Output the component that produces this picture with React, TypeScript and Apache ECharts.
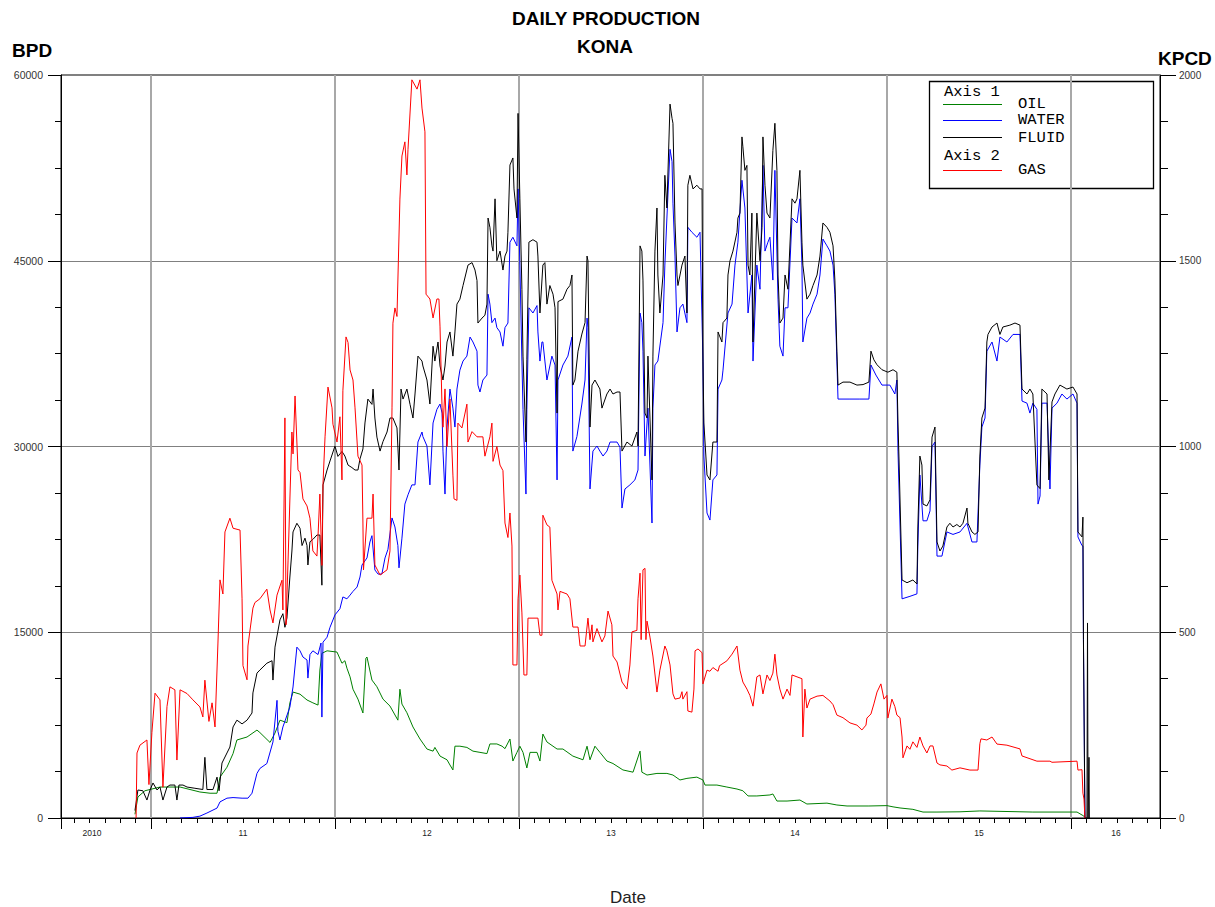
import React, { useEffect, useRef } from 'react';
import * as echarts from 'echarts';

// ---- axis ranges (decimal years / BPD / KPCD) ----
const X_MIN = 2010.511;
const X_MAX = 2016.484;
const BPD_MAX = 60000;
const BPD_STEP = 15000;
const KPCD_MAX = 2000;
const KPCD_STEP = 500;

const X_LABEL_VALUES = [2010.679, 2011.5, 2012.5, 2013.5, 2014.5, 2015.5, 2016.245];
const X_LABEL_TEXTS = ['2010', '11', '12', '13', '14', '15', '16'];

const TITLE_LINES = ['DAILY PRODUCTION', 'KONA'];
const LEFT_UNIT = 'BPD';
const RIGHT_UNIT = 'KPCD';
const X_NAME = 'Date';
const AXIS1_SERIES = ['OIL', 'WATER', 'FLUID'];
const AXIS2_SERIES = ['GAS'];
const COLORS: Record<string, string> = { OIL: '#008000', WATER: '#0000ff', FLUID: '#000000', GAS: '#ff0000' };

// ---- series values [decimal year, value] ----
const OIL: [number, number][] = [
  [2010.913, 300], [2010.929, 1700], [2010.967, 2200], [2011.049, 2500], [2011.158, 2500], [2011.266, 2100],
  [2011.321, 2000], [2011.359, 2000], [2011.375, 3300], [2011.413, 4100], [2011.446, 5200], [2011.467, 6300],
  [2011.522, 6540], [2011.576, 7100], [2011.592, 6900], [2011.647, 6100], [2011.674, 6860], [2011.701, 7900],
  [2011.739, 7700], [2011.755, 9300], [2011.772, 10170], [2011.810, 10000], [2011.848, 9530], [2011.880, 9300],
  [2011.908, 9120], [2011.918, 11950], [2011.929, 13300], [2011.957, 13500], [2012.011, 13400], [2012.038, 12500],
  [2012.054, 12700], [2012.065, 12100], [2012.082, 11400], [2012.098, 10400], [2012.125, 9600], [2012.152, 8480],
  [2012.168, 12900], [2012.174, 13000], [2012.201, 11140], [2012.228, 10600], [2012.261, 9600], [2012.299, 9040],
  [2012.342, 7900], [2012.353, 10400], [2012.364, 9200], [2012.391, 8500], [2012.424, 7350], [2012.462, 6380],
  [2012.500, 5570], [2012.533, 5400], [2012.543, 5700], [2012.571, 5000], [2012.609, 4700], [2012.625, 4280],
  [2012.641, 3880], [2012.652, 5800], [2012.679, 5800], [2012.717, 5700], [2012.750, 5400], [2012.788, 5300],
  [2012.826, 5200], [2012.842, 5980], [2012.880, 5980], [2012.908, 5800], [2012.924, 5600], [2012.951, 6380],
  [2012.967, 4600], [2012.989, 5300], [2013.005, 5800], [2013.022, 5300], [2013.043, 4040], [2013.060, 5300],
  [2013.098, 5300], [2013.114, 4600], [2013.130, 6780], [2013.152, 6140], [2013.207, 5570], [2013.239, 5570],
  [2013.293, 5000], [2013.348, 4700], [2013.370, 5800], [2013.386, 4700], [2013.413, 5800], [2013.440, 5300],
  [2013.478, 4600], [2013.511, 4400], [2013.565, 3880], [2013.620, 3700], [2013.658, 5400], [2013.668, 3700],
  [2013.696, 3470], [2013.750, 3600], [2013.804, 3600], [2013.837, 3470], [2013.875, 3070], [2013.913, 3200],
  [2013.967, 3300], [2014.000, 3070], [2014.011, 2660], [2014.076, 2660], [2014.130, 2500], [2014.185, 2340],
  [2014.217, 2200], [2014.245, 1780], [2014.293, 1780], [2014.364, 1860], [2014.380, 1940], [2014.402, 1370],
  [2014.457, 1370], [2014.527, 1450], [2014.565, 1130], [2014.674, 1200], [2014.728, 1050], [2014.783, 970],
  [2014.902, 970], [2015.000, 1000], [2015.033, 900], [2015.071, 810], [2015.141, 700], [2015.196, 480],
  [2015.272, 480], [2015.397, 500], [2015.505, 570], [2015.793, 480], [2016.033, 480], [2016.065, 200],
  [2016.082, 0],
];

const WATER: [number, number][] = [
  [2011.158, 0], [2011.228, 50], [2011.266, 150], [2011.304, 400], [2011.359, 800], [2011.375, 1300],
  [2011.413, 1600], [2011.446, 1650], [2011.495, 1600], [2011.527, 1600], [2011.549, 2000], [2011.576, 3600],
  [2011.592, 4000], [2011.630, 4400], [2011.663, 6140], [2011.685, 9500], [2011.690, 7000], [2011.701, 6300],
  [2011.717, 7350], [2011.755, 8960], [2011.772, 10580], [2011.793, 13800], [2011.810, 13500], [2011.826, 13000],
  [2011.848, 12760], [2011.853, 11300], [2011.864, 13200], [2011.880, 13500], [2011.908, 13200], [2011.924, 14130],
  [2011.929, 8150], [2011.935, 14200], [2011.957, 14600], [2011.973, 15400], [2012.000, 16400], [2012.027, 16900],
  [2012.043, 17850], [2012.065, 17700], [2012.082, 18000], [2012.098, 18300], [2012.120, 18650], [2012.136, 19460],
  [2012.147, 20430], [2012.174, 21000], [2012.190, 22290], [2012.201, 22800], [2012.217, 20030], [2012.234, 19700],
  [2012.255, 19700], [2012.272, 21000], [2012.288, 21700], [2012.310, 24230], [2012.326, 23500], [2012.342, 22000],
  [2012.348, 20200], [2012.364, 22600], [2012.380, 25350], [2012.397, 26100], [2012.418, 26900], [2012.435, 26900],
  [2012.451, 30360], [2012.473, 31170], [2012.478, 30800], [2012.500, 30040], [2012.516, 26900], [2012.533, 31900],
  [2012.554, 33000], [2012.571, 33430], [2012.582, 32700], [2012.587, 29630], [2012.598, 26160], [2012.609, 31570],
  [2012.625, 34640], [2012.641, 33100], [2012.652, 31570], [2012.663, 34640], [2012.679, 36170], [2012.696, 36900],
  [2012.717, 37300], [2012.734, 38840], [2012.750, 38440], [2012.772, 37700], [2012.777, 34960], [2012.788, 34400],
  [2012.804, 35370], [2012.826, 35770], [2012.832, 42300], [2012.842, 41500], [2012.853, 40000], [2012.870, 40370],
  [2012.880, 39600], [2012.897, 39250], [2012.913, 38100], [2012.924, 39600], [2012.940, 39970], [2012.951, 46500],
  [2012.967, 46900], [2012.989, 46200], [2012.995, 50800], [2013.005, 44650], [2013.016, 36900], [2013.022, 33000],
  [2013.038, 26160], [2013.043, 33000], [2013.054, 41200], [2013.076, 40780], [2013.098, 41380], [2013.103, 39250],
  [2013.114, 36900], [2013.125, 38440], [2013.130, 38440], [2013.141, 36900], [2013.152, 35370], [2013.179, 37300],
  [2013.196, 36580], [2013.207, 27300], [2013.212, 35370], [2013.239, 36580], [2013.266, 37300], [2013.288, 38840],
  [2013.293, 29630], [2013.315, 30800], [2013.342, 33430], [2013.359, 35370], [2013.370, 40370], [2013.375, 39600],
  [2013.386, 26570], [2013.402, 29630], [2013.424, 30040], [2013.440, 29630], [2013.457, 29230], [2013.478, 29630],
  [2013.495, 30360], [2013.533, 30360], [2013.549, 29950], [2013.560, 25030], [2013.576, 26570], [2013.603, 26900],
  [2013.630, 27300], [2013.647, 28100], [2013.658, 40780], [2013.668, 40000], [2013.674, 37700], [2013.685, 29230],
  [2013.701, 33100], [2013.723, 23820], [2013.728, 33100], [2013.739, 36580], [2013.755, 36900], [2013.783, 40000],
  [2013.793, 44650], [2013.804, 48450], [2013.821, 54000], [2013.832, 53000], [2013.837, 49650], [2013.848, 45380],
  [2013.859, 39250], [2013.875, 41200], [2013.891, 41500], [2013.913, 40000], [2013.918, 47700], [2013.940, 47300],
  [2013.967, 46900], [2013.984, 47300], [2014.000, 36900], [2014.005, 29230], [2014.022, 24630], [2014.038, 24060],
  [2014.054, 27300], [2014.076, 27700], [2014.082, 34640], [2014.103, 35370], [2014.109, 36170], [2014.136, 40780],
  [2014.158, 41500], [2014.174, 44650], [2014.190, 46500], [2014.212, 51500], [2014.228, 49260], [2014.245, 40780],
  [2014.266, 43850], [2014.272, 36900], [2014.293, 44650], [2014.310, 42700], [2014.326, 52700], [2014.337, 45780],
  [2014.353, 46500], [2014.364, 46900], [2014.380, 43440], [2014.391, 52300], [2014.408, 41900], [2014.418, 38100],
  [2014.435, 37300], [2014.446, 41200], [2014.462, 41200], [2014.484, 48450], [2014.511, 48050], [2014.527, 50000],
  [2014.538, 44650], [2014.543, 38440], [2014.565, 40370], [2014.582, 40780], [2014.598, 41500], [2014.620, 42300],
  [2014.636, 43850], [2014.652, 46750], [2014.674, 46200], [2014.690, 45780], [2014.707, 44650], [2014.717, 42300],
  [2014.728, 36900], [2014.734, 33830], [2014.799, 33830], [2014.853, 33830], [2014.902, 33830], [2014.913, 36580],
  [2014.940, 35770], [2014.973, 34960], [2015.016, 34960], [2015.043, 34240], [2015.054, 35370], [2015.060, 29630],
  [2015.082, 17700], [2015.125, 17900], [2015.163, 18100], [2015.168, 21960], [2015.179, 27700], [2015.196, 24000],
  [2015.217, 24000], [2015.234, 24800], [2015.245, 30000], [2015.261, 30360], [2015.272, 21150], [2015.299, 21150],
  [2015.326, 23100], [2015.359, 22900], [2015.397, 23100], [2015.435, 23800], [2015.462, 22290], [2015.489, 22290],
  [2015.505, 28500], [2015.516, 31570], [2015.533, 32300], [2015.543, 37700], [2015.571, 38440], [2015.598, 36900],
  [2015.614, 38840], [2015.652, 38440], [2015.685, 39050], [2015.723, 39050], [2015.734, 33670], [2015.761, 33500],
  [2015.777, 32700], [2015.793, 33500], [2015.815, 33000], [2015.821, 25350], [2015.832, 26000], [2015.842, 33500],
  [2015.870, 33500], [2015.886, 26570], [2015.897, 33100], [2015.924, 33500], [2015.951, 34240], [2015.978, 33830],
  [2016.011, 34240], [2016.033, 33500], [2016.038, 22700], [2016.060, 22000], [2016.065, 21960], [2016.068, 14200],
  [2016.076, 0],
];

const FLUID: [number, number][] = [
  [2010.913, 600], [2010.929, 2260], [2010.956, 2200], [2010.978, 1450], [2010.995, 2260], [2011.011, 2830],
  [2011.033, 2260], [2011.049, 2500], [2011.065, 1450], [2011.087, 2500], [2011.103, 2660], [2011.130, 2660],
  [2011.141, 1450], [2011.152, 2660], [2011.174, 2660], [2011.196, 2500], [2011.239, 2400], [2011.282, 2300],
  [2011.293, 4900], [2011.304, 2300], [2011.337, 2300], [2011.359, 3300], [2011.370, 2200], [2011.386, 4440],
  [2011.413, 5250], [2011.429, 5730], [2011.446, 7350], [2011.467, 7900], [2011.495, 7600], [2011.522, 7900],
  [2011.549, 8480], [2011.554, 10100], [2011.576, 11700], [2011.592, 11950], [2011.630, 12500], [2011.658, 12700],
  [2011.663, 11140], [2011.674, 13800], [2011.701, 16000], [2011.717, 16500], [2011.728, 15400], [2011.739, 16150],
  [2011.755, 19460], [2011.766, 21560], [2011.772, 23100], [2011.793, 23800], [2011.810, 23400], [2011.821, 22000],
  [2011.837, 22600], [2011.848, 22000], [2011.853, 20430], [2011.864, 22300], [2011.880, 22500], [2011.902, 22850],
  [2011.918, 22850], [2011.929, 18800], [2011.935, 26900], [2011.957, 28100], [2011.973, 28830], [2012.000, 30040],
  [2012.016, 29200], [2012.038, 29600], [2012.054, 29230], [2012.071, 28500], [2012.092, 28300], [2012.109, 28100],
  [2012.125, 28100], [2012.136, 29000], [2012.152, 29800], [2012.163, 31900], [2012.179, 33830], [2012.201, 33400],
  [2012.207, 34640], [2012.217, 32300], [2012.228, 30760], [2012.245, 29630], [2012.261, 30400], [2012.283, 31170],
  [2012.299, 32300], [2012.315, 32300], [2012.337, 31500], [2012.348, 28100], [2012.359, 34640], [2012.370, 33830],
  [2012.391, 34640], [2012.408, 33400], [2012.424, 32300], [2012.435, 34240], [2012.451, 37300], [2012.473, 36900],
  [2012.478, 36500], [2012.500, 35370], [2012.516, 33430], [2012.533, 38100], [2012.543, 36900], [2012.560, 38440],
  [2012.571, 36500], [2012.587, 35370], [2012.598, 36500], [2012.609, 38440], [2012.625, 39250], [2012.641, 37300],
  [2012.652, 39250], [2012.663, 41500], [2012.679, 41900], [2012.696, 43000], [2012.723, 44650], [2012.745, 44850],
  [2012.761, 44250], [2012.772, 43400], [2012.777, 39970], [2012.799, 40370], [2012.815, 40600], [2012.826, 41500],
  [2012.832, 48450], [2012.842, 47700], [2012.853, 46200], [2012.859, 45780], [2012.870, 50000], [2012.880, 45000],
  [2012.897, 45780], [2012.913, 44250], [2012.924, 45380], [2012.935, 45780], [2012.940, 47300], [2012.951, 52730],
  [2012.967, 53300], [2012.973, 50800], [2012.989, 48450], [2012.995, 56900], [2013.005, 50000], [2013.016, 42700],
  [2013.022, 37300], [2013.038, 30360], [2013.043, 37000], [2013.054, 46500], [2013.076, 46700], [2013.098, 46500],
  [2013.103, 45380], [2013.114, 40780], [2013.130, 44650], [2013.141, 44850], [2013.152, 41500], [2013.168, 43000],
  [2013.185, 42300], [2013.196, 41200], [2013.207, 32700], [2013.212, 41700], [2013.239, 41900], [2013.261, 42700],
  [2013.277, 43000], [2013.288, 43850], [2013.293, 34960], [2013.304, 35370], [2013.321, 37700], [2013.342, 39080],
  [2013.359, 40000], [2013.370, 45380], [2013.375, 45000], [2013.386, 31570], [2013.397, 34960], [2013.413, 35370],
  [2013.440, 34640], [2013.451, 33100], [2013.478, 34240], [2013.495, 34640], [2013.511, 34240], [2013.533, 34400],
  [2013.549, 34400], [2013.560, 29630], [2013.587, 30360], [2013.614, 30040], [2013.641, 31170], [2013.647, 30040],
  [2013.658, 46200], [2013.668, 45780], [2013.674, 43440], [2013.685, 32700], [2013.696, 32300], [2013.701, 37300],
  [2013.712, 32300], [2013.723, 27300], [2013.728, 37300], [2013.739, 45780], [2013.750, 49260], [2013.755, 43850],
  [2013.766, 40780], [2013.783, 43850], [2013.793, 51900], [2013.804, 49260], [2013.821, 57650], [2013.832, 56500],
  [2013.837, 56100], [2013.848, 48050], [2013.859, 43850], [2013.864, 43000], [2013.886, 44650], [2013.902, 45380],
  [2013.913, 40780], [2013.918, 51100], [2013.929, 51900], [2013.946, 50800], [2013.967, 51100], [2013.984, 50800],
  [2013.995, 50800], [2014.000, 36900], [2014.005, 31900], [2014.022, 27700], [2014.038, 27300], [2014.054, 30360],
  [2014.076, 30360], [2014.082, 39250], [2014.103, 38440], [2014.109, 40000], [2014.130, 40370], [2014.136, 43850],
  [2014.147, 45000], [2014.163, 45780], [2014.185, 47300], [2014.190, 48450], [2014.201, 48850], [2014.212, 55000],
  [2014.217, 54200], [2014.228, 52300], [2014.239, 52700], [2014.245, 44650], [2014.255, 43850], [2014.266, 48850],
  [2014.272, 38440], [2014.293, 48850], [2014.310, 45000], [2014.321, 47700], [2014.326, 55000], [2014.337, 51100],
  [2014.348, 48850], [2014.364, 48450], [2014.380, 53900], [2014.391, 56100], [2014.402, 52300], [2014.408, 43850],
  [2014.418, 39970], [2014.435, 40370], [2014.446, 43850], [2014.462, 42700], [2014.484, 50000], [2014.500, 49650],
  [2014.511, 50000], [2014.527, 52300], [2014.538, 46500], [2014.543, 44650], [2014.565, 41900], [2014.582, 42300],
  [2014.598, 43000], [2014.620, 43850], [2014.636, 45380], [2014.652, 48050], [2014.674, 47700], [2014.690, 47300],
  [2014.707, 46200], [2014.717, 43440], [2014.728, 37700], [2014.734, 34960], [2014.761, 35200], [2014.799, 35200],
  [2014.837, 34960], [2014.870, 35000], [2014.902, 35200], [2014.913, 37700], [2014.929, 37000], [2014.946, 36600],
  [2014.973, 36200], [2015.005, 36000], [2015.033, 36200], [2015.054, 36000], [2015.060, 31900], [2015.065, 29230],
  [2015.082, 19220], [2015.109, 19000], [2015.141, 19220], [2015.163, 18900], [2015.168, 23500], [2015.179, 29230],
  [2015.190, 28500], [2015.196, 25350], [2015.217, 25200], [2015.234, 25700], [2015.245, 30760], [2015.261, 31570],
  [2015.272, 22290], [2015.288, 21560], [2015.304, 21960], [2015.326, 23500], [2015.342, 23800], [2015.359, 23500],
  [2015.380, 23700], [2015.397, 23500], [2015.413, 23800], [2015.435, 25030], [2015.440, 23800], [2015.462, 23100],
  [2015.478, 22900], [2015.495, 23100], [2015.505, 29230], [2015.516, 32300], [2015.533, 33100], [2015.543, 38440],
  [2015.549, 39050], [2015.571, 39650], [2015.598, 39970], [2015.614, 39050], [2015.630, 39650], [2015.668, 39800],
  [2015.696, 39970], [2015.723, 39800], [2015.734, 34640], [2015.761, 34240], [2015.777, 34640], [2015.793, 34240],
  [2015.815, 26890], [2015.832, 26600], [2015.842, 34640], [2015.870, 34240], [2015.880, 27300], [2015.897, 33600],
  [2015.913, 34240], [2015.940, 34960], [2015.978, 34640], [2016.011, 34800], [2016.033, 34240], [2016.038, 23100],
  [2016.060, 22700], [2016.065, 24300], [2016.068, 14400], [2016.076, 0], [2016.087, 0], [2016.090, 15750],
  [2016.093, 0], [2016.098, 4900], [2016.100, 0],
];

const GAS: [number, number][] = [
  [2010.919, 0], [2010.924, 175], [2010.940, 196], [2010.978, 210], [2010.989, 90], [2011.005, 230],
  [2011.022, 336], [2011.049, 318], [2011.065, 83], [2011.087, 300], [2011.103, 353], [2011.130, 345],
  [2011.141, 156], [2011.158, 345], [2011.196, 335], [2011.228, 318], [2011.266, 299], [2011.282, 272],
  [2011.293, 371], [2011.315, 260], [2011.332, 310], [2011.348, 245], [2011.364, 471], [2011.375, 641],
  [2011.391, 603], [2011.402, 770], [2011.429, 807], [2011.446, 780], [2011.484, 775], [2011.495, 590],
  [2011.500, 410], [2011.522, 372], [2011.527, 463], [2011.554, 565], [2011.565, 580], [2011.592, 590],
  [2011.630, 616], [2011.647, 560], [2011.663, 525], [2011.685, 600], [2011.712, 640], [2011.717, 560],
  [2011.728, 1077], [2011.734, 520], [2011.745, 692], [2011.766, 1039], [2011.772, 980], [2011.783, 1136],
  [2011.799, 937], [2011.810, 930], [2011.826, 859], [2011.848, 840], [2011.864, 807], [2011.880, 719],
  [2011.902, 705], [2011.908, 760], [2011.918, 872], [2011.929, 680], [2011.935, 900], [2011.946, 1026],
  [2011.962, 1160], [2011.984, 1104], [2011.989, 1060], [2012.011, 1012], [2012.027, 1080], [2012.038, 910],
  [2012.043, 1150], [2012.060, 1295], [2012.071, 1280], [2012.082, 1206], [2012.098, 1179], [2012.109, 1104],
  [2012.125, 974], [2012.147, 950], [2012.152, 794], [2012.155, 668], [2012.174, 807], [2012.201, 807],
  [2012.207, 872], [2012.217, 681], [2012.245, 654], [2012.283, 668], [2012.299, 719], [2012.310, 1104],
  [2012.315, 1332], [2012.326, 1373], [2012.337, 1350], [2012.353, 1666], [2012.364, 1782], [2012.380, 1820],
  [2012.391, 1731], [2012.397, 1800], [2012.418, 1987], [2012.446, 1962], [2012.462, 1987], [2012.473, 1911],
  [2012.489, 1847], [2012.495, 1410], [2012.516, 1397], [2012.533, 1346], [2012.554, 1397], [2012.565, 1397],
  [2012.571, 1322], [2012.582, 1104], [2012.587, 1052], [2012.598, 1155], [2012.609, 1000], [2012.625, 1128],
  [2012.641, 923], [2012.647, 859], [2012.663, 855], [2012.668, 1063], [2012.690, 1050], [2012.717, 1114],
  [2012.723, 1012], [2012.745, 1040], [2012.772, 1026], [2012.804, 1026], [2012.815, 974], [2012.842, 1026],
  [2012.853, 1063], [2012.859, 960], [2012.880, 1000], [2012.897, 950], [2012.913, 935], [2012.924, 794],
  [2012.940, 755], [2012.951, 821], [2012.962, 732], [2012.967, 412], [2012.989, 412], [2012.995, 590],
  [2013.005, 654], [2013.016, 552], [2013.027, 385], [2013.043, 385], [2013.049, 538], [2013.103, 538],
  [2013.114, 492], [2013.125, 492], [2013.130, 815], [2013.152, 789], [2013.168, 783], [2013.179, 640],
  [2013.207, 603], [2013.212, 560], [2013.223, 610], [2013.261, 603], [2013.277, 590], [2013.293, 514],
  [2013.321, 514], [2013.332, 463], [2013.359, 463], [2013.375, 538], [2013.386, 480], [2013.397, 520],
  [2013.402, 474], [2013.424, 510], [2013.451, 474], [2013.467, 490], [2013.484, 557], [2013.505, 520],
  [2013.511, 436], [2013.533, 420], [2013.560, 366], [2013.587, 347], [2013.603, 412], [2013.614, 501],
  [2013.641, 505], [2013.647, 590], [2013.658, 659], [2013.664, 480], [2013.674, 668], [2013.685, 672],
  [2013.690, 480], [2013.696, 530], [2013.712, 487], [2013.728, 436], [2013.750, 339], [2013.766, 398],
  [2013.793, 463], [2013.804, 450], [2013.821, 412], [2013.837, 334], [2013.848, 320], [2013.875, 323],
  [2013.886, 340], [2013.891, 320], [2013.913, 340], [2013.918, 288], [2013.940, 285], [2013.951, 347],
  [2013.957, 450], [2013.973, 455], [2013.995, 445], [2014.000, 361], [2014.022, 398], [2014.038, 395],
  [2014.054, 405], [2014.082, 395], [2014.090, 410], [2014.130, 423], [2014.158, 441], [2014.185, 463],
  [2014.201, 398], [2014.217, 366], [2014.239, 347], [2014.255, 330], [2014.272, 301], [2014.293, 380],
  [2014.310, 385], [2014.326, 334], [2014.348, 385], [2014.364, 370], [2014.380, 390], [2014.391, 441],
  [2014.402, 385], [2014.418, 347], [2014.435, 320], [2014.457, 347], [2014.473, 330], [2014.484, 385],
  [2014.511, 380], [2014.538, 375], [2014.543, 218], [2014.554, 347], [2014.565, 296], [2014.582, 320],
  [2014.620, 328], [2014.652, 330], [2014.690, 315], [2014.707, 305], [2014.728, 277], [2014.761, 270],
  [2014.799, 256], [2014.837, 250], [2014.864, 237], [2014.886, 250], [2014.891, 269], [2014.913, 280],
  [2014.929, 307], [2014.946, 339], [2014.967, 361], [2014.984, 320], [2015.000, 330], [2015.005, 269],
  [2015.027, 320], [2015.043, 300], [2015.054, 277], [2015.071, 270], [2015.082, 218], [2015.087, 162],
  [2015.109, 194], [2015.125, 185], [2015.141, 205], [2015.163, 190], [2015.179, 218], [2015.196, 194],
  [2015.217, 175], [2015.234, 194], [2015.250, 194], [2015.272, 148], [2015.288, 143], [2015.326, 140],
  [2015.353, 129], [2015.397, 135], [2015.451, 129], [2015.495, 129], [2015.505, 200], [2015.511, 213],
  [2015.543, 210], [2015.571, 218], [2015.598, 199], [2015.652, 196], [2015.723, 186], [2015.734, 167],
  [2015.815, 153], [2015.886, 153], [2015.897, 150], [2016.033, 153], [2016.038, 129], [2016.060, 130],
  [2016.065, 67], [2016.071, 51], [2016.076, 0],
];

const SANS = '"Liberation Sans", Arial, sans-serif';
const MONO = '"Liberation Mono", "DejaVu Sans Mono", monospace';

function txt(text: string, x: number, y: number, font: string, align: string, color = '#000') {
  return {
    type: 'text',
    x,
    y,
    silent: true,
    style: {
      text,
      font,
      fill: color,
      align,
      verticalAlign: 'middle',
      textAlign: align,
      textVerticalAlign: 'middle',
    },
  };
}

function buildLegend() {
  const els: any[] = [];
  els.push({
    type: 'rect',
    silent: true,
    shape: { x: 929.5, y: 81.5, width: 224, height: 107 },
    style: { fill: '#fff', stroke: '#000', lineWidth: 1.3 },
  });
  const rows: { kind: 'head' | 'item'; label: string; y: number }[] = [];
  rows.push({ kind: 'head', label: 'Axis 1', y: 92 });
  const axis1Y = [104, 120, 137.5];
  AXIS1_SERIES.forEach((s, i) => rows.push({ kind: 'item', label: s, y: axis1Y[i] }));
  rows.push({ kind: 'head', label: 'Axis 2', y: 156 });
  AXIS2_SERIES.forEach((s) => rows.push({ kind: 'item', label: s, y: 170 }));
  rows.forEach((r) => {
    if (r.kind === 'head') {
      els.push(txt(r.label, 944, r.y, `15.5px ${MONO}`, 'left'));
    } else {
      const ly = r.y - 0.5;
      els.push({
        type: 'line',
        silent: true,
        shape: { x1: 943, y1: Math.round(ly) + 0.5, x2: 1002, y2: Math.round(ly) + 0.5 },
        style: { stroke: COLORS[r.label], lineWidth: 1 },
      });
      els.push(txt(r.label, 1018, r.y, `15.5px ${MONO}`, 'left'));
    }
  });
  return els;
}

const plainNumber = (v: number) => String(Math.round(v));

export default function App() {
  const ref = useRef<HTMLDivElement>(null);

  useEffect(() => {
    if (!ref.current) return;
    const chart = echarts.init(ref.current, undefined, { renderer: 'svg' });

    const lineSeries = (name: string, data: [number, number][], yAxisIndex: number) => ({
      name,
      type: 'line',
      xAxisIndex: 0,
      yAxisIndex,
      data,
      showSymbol: false,
      symbol: 'none',
      silent: true,
      clip: true,
      lineStyle: { color: COLORS[name], width: 1 },
      itemStyle: { color: COLORS[name] },
    });

    const option: any = {
      animation: false,
      backgroundColor: '#ffffff',
      grid: {
        left: 61,
        right: 55,
        top: 75,
        bottom: 89,
        show: true,
        borderColor: '#000',
        borderWidth: 1,
        backgroundColor: 'transparent',
        containLabel: false,
      },
      xAxis: [
        {
          type: 'value',
          min: X_MIN,
          max: X_MAX,
          minInterval: 1,
          maxInterval: 1,
          position: 'bottom',
          axisLine: { show: true, onZero: false, lineStyle: { color: '#000', width: 1 } },
          axisTick: { show: true, length: 11, lineStyle: { color: '#000', width: 1 } },
          axisLabel: { show: false },
          splitLine: {
            show: true,
            showMinLine: false,
            showMaxLine: false,
            lineStyle: { color: '#a8a8a8', width: 2 },
          },
        },
        {
          type: 'value',
          min: X_MIN,
          max: X_MAX,
          minInterval: 1 / 12,
          maxInterval: 1 / 12,
          position: 'bottom',
          axisLine: { show: false, onZero: false },
          axisTick: { show: true, length: 5, lineStyle: { color: '#000', width: 1 } },
          axisLabel: { show: false },
          splitLine: { show: false },
        },
        {
          type: 'value',
          min: X_MIN,
          max: X_MAX,
          position: 'bottom',
          axisLine: { show: false, onZero: false },
          axisTick: { show: false },
          splitLine: { show: false },
          axisLabel: {
            show: true,
            customValues: X_LABEL_VALUES,
            margin: 10,
            fontSize: 8.5,
            fontFamily: SANS,
            color: '#222',
            formatter: (v: number) => {
              const i = X_LABEL_VALUES.findIndex((x) => Math.abs(x - v) < 1e-6);
              return i >= 0 ? X_LABEL_TEXTS[i] : '';
            },
          },
        },
      ],
      yAxis: [
        {
          type: 'value',
          position: 'left',
          min: 0,
          max: BPD_MAX,
          interval: BPD_STEP,
          axisLine: { show: true, onZero: false, lineStyle: { color: '#000', width: 1 } },
          axisTick: { show: true, length: 13, lineStyle: { color: '#000', width: 1 } },
          minorTick: { show: true, splitNumber: 4, length: 6, lineStyle: { color: '#000', width: 1 } },
          axisLabel: { show: true, margin: 18, fontSize: 10.5, fontFamily: SANS, color: '#333', formatter: plainNumber },
          splitLine: { show: true, lineStyle: { color: '#808080', width: 1 } },
        },
        {
          type: 'value',
          position: 'right',
          min: 0,
          max: KPCD_MAX,
          interval: KPCD_STEP,
          axisLine: { show: true, onZero: false, lineStyle: { color: '#000', width: 1 } },
          axisTick: { show: true, length: 16, lineStyle: { color: '#000', width: 1 } },
          minorTick: { show: true, splitNumber: 4, length: 8, lineStyle: { color: '#000', width: 1 } },
          axisLabel: { show: true, margin: 19, fontSize: 10, fontFamily: SANS, color: '#333', formatter: plainNumber },
          splitLine: { show: false },
        },
      ],
      series: [
        lineSeries('OIL', OIL, 0),
        lineSeries('WATER', WATER, 0),
        lineSeries('FLUID', FLUID, 0),
        lineSeries('GAS', GAS, 1),
      ],
      graphic: [
        txt(TITLE_LINES[0], 606, 18, `bold 19px ${SANS}`, 'center'),
        txt(TITLE_LINES[1], 605, 46, `bold 19px ${SANS}`, 'center'),
        txt(LEFT_UNIT, 12, 50, `bold 19px ${SANS}`, 'left'),
        txt(RIGHT_UNIT, 1158, 58, `bold 19px ${SANS}`, 'left'),
        txt(X_NAME, 628, 897, `17px ${SANS}`, 'center', '#222'),
        ...buildLegend(),
      ],
    };

    chart.setOption(option);
    return () => {
      chart.dispose();
    };
  }, []);

  return (
    <div
      ref={ref}
      style={{ position: 'fixed', left: 0, top: 0, width: 1215, height: 907, background: '#fff' }}
    />
  );
}
